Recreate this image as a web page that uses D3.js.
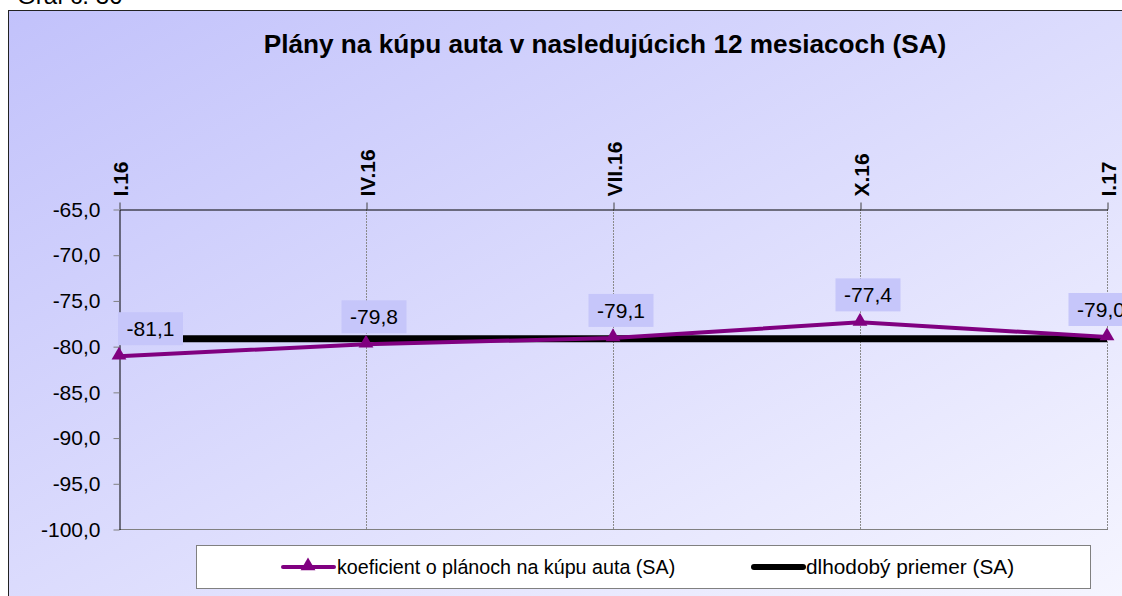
<!DOCTYPE html>
<html>
<head>
<meta charset="utf-8">
<script src="https://cdn.jsdelivr.net/npm/d3@7"></script>
<style>
  body { margin: 0; background: #fff; }
  svg { display: block; font-family: 'Liberation Sans', Arial, sans-serif; }
</style>
</head>
<body>
<div id="chart"></div>
<script>
const w = 1122;
const h = 596;

const categories = ['I.16', 'IV.16', 'VII.16', 'X.16', 'I.17'];
const planValues = [-81.1, -79.8, -79.1, -77.4, -79.0];
const longAverage = -79.2;
const yTicks = [-65, -70, -75, -80, -85, -90, -95, -100];
const seriesNames = ['koeficient o plánoch na kúpu auta (SA)', 'dlhodobý priemer (SA)'];

const plot = {left: 119, right: 1107, top: 209, bottom: 529};
const font = "'Liberation Sans', Arial, sans-serif";

const sk = d3.formatLocale({decimal: ',', thousands: ' ', grouping: [3], currency: ['', '€'], minus: '-'});
const fmt = sk.format('.1f');

const svg = d3.select('#chart')
  .append('svg')
  .attr('width', w)
  .attr('height', h);

const grad = svg.append('defs').append('linearGradient')
  .attr('id', 'bg')
  .attr('x1', '0%').attr('y1', '0%')
  .attr('x2', '100%').attr('y2', '100%');
grad.append('stop').attr('offset', '0%').attr('stop-color', '#c2c2fb');
grad.append('stop').attr('offset', '100%').attr('stop-color', '#f6f6ff');

// caption above the frame, mostly cut off
svg.append('text')
  .attr('x', 17)
  .attr('y', 4)
  .attr('font-size', '24px')
  .text('Graf č. 36');

// chart frame
svg.append('rect')
  .attr('x', 8.5)
  .attr('y', 10.5)
  .attr('width', 1130)
  .attr('height', 600)
  .attr('fill', 'url(#bg)')
  .attr('stroke', '#222');

svg.append('text')
  .attr('x', 605)
  .attr('y', 53)
  .attr('text-anchor', 'middle')
  .attr('font-size', '26.2px')
  .attr('font-weight', 'bold')
  .text('Plány na kúpu auta v nasledujúcich 12 mesiacoch (SA)');

const x = d3.scalePoint().domain(categories).range([plot.left, plot.right]).padding(0);
const y = d3.scaleLinear().domain([-100, -65]).range([plot.bottom, plot.top]);

// vertical gridlines
svg.append('g')
  .selectAll('line')
  .data(categories.slice(1))
  .join('line')
  .attr('x1', d => x(d) + 0.5)
  .attr('x2', d => x(d) + 0.5)
  .attr('y1', plot.top)
  .attr('y2', plot.bottom)
  .attr('stroke', '#8a8a8a')
  .attr('stroke-dasharray', '2,1');

// bottom border of plot
svg.append('line')
  .attr('x1', plot.left)
  .attr('x2', plot.right + 1)
  .attr('y1', plot.bottom + 0.5)
  .attr('y2', plot.bottom + 0.5)
  .attr('stroke', '#808080');

// y axis
const yAxis = d3.axisLeft(y)
  .tickValues(yTicks)
  .tickFormat(fmt)
  .tickSize(6)
  .tickSizeOuter(0)
  .tickPadding(13);
const gy = svg.append('g')
  .attr('transform', `translate(${plot.left + 0.5}, 0.5)`)
  .call(yAxis)
  .attr('font-size', 21)
  .attr('font-family', font);
gy.select('.domain').attr('stroke', '#000');
gy.selectAll('.tick line').attr('stroke', '#808080');
gy.selectAll('.tick text').attr('fill', '#000');

// x axis on top
const xAxis = d3.axisTop(x).tickSize(7).tickSizeOuter(0);
const gx = svg.append('g')
  .attr('transform', `translate(0.5, ${plot.top + 0.5})`)
  .call(xAxis)
  .attr('font-size', 21)
  .attr('font-family', font);
gx.select('.domain').attr('stroke', '#000');
gx.selectAll('.tick line').attr('stroke', '#404040');
gx.selectAll('.tick text')
  .attr('transform', 'rotate(-90)')
  .attr('x', 13)
  .attr('y', 0)
  .attr('dy', '0.36em')
  .attr('text-anchor', 'start')
  .attr('font-weight', 'bold')
  .attr('fill', '#000');

// long term average
svg.append('line')
  .attr('x1', x(categories[0]))
  .attr('x2', x(categories[categories.length - 1]))
  .attr('y1', y(longAverage))
  .attr('y2', y(longAverage))
  .attr('stroke', '#000')
  .attr('stroke-width', 7);

// plans series
const line = d3.line()
  .x((d, i) => x(categories[i]))
  .y(d => y(d));
svg.append('path')
  .datum(planValues)
  .attr('d', line)
  .attr('fill', 'none')
  .attr('stroke', '#800080')
  .attr('stroke-width', 4);

const tri = d3.symbol().type(d3.symbolTriangle).size(95);
svg.append('g')
  .selectAll('path')
  .data(planValues)
  .join('path')
  .attr('d', tri)
  .attr('transform', (d, i) => `translate(${x(categories[i])}, ${y(d) - 1})`)
  .attr('fill', '#800080');

// data labels
const boxW = 65, boxH = 33;
const labels = svg.append('g')
  .selectAll('g')
  .data(planValues)
  .join('g')
  .attr('transform', (d, i) => {
    let cx = x(categories[i]) + 8;
    cx = Math.max(cx, plot.left - 1 + boxW / 2);
    cx = Math.min(cx, plot.right - 6);
    return `translate(${cx}, ${y(d) - 11})`;
  });
labels.append('rect')
  .attr('x', -boxW / 2)
  .attr('y', -boxH)
  .attr('width', boxW)
  .attr('height', boxH)
  .attr('fill', '#c6c6fa');
labels.append('text')
  .attr('x', 0)
  .attr('y', -boxH / 2)
  .attr('dy', '0.36em')
  .attr('text-anchor', 'middle')
  .attr('font-size', '21px')
  .text(d => fmt(d));

// legend
const legend = svg.append('g');
legend.append('rect')
  .attr('x', 196.5)
  .attr('y', 545.5)
  .attr('width', 894)
  .attr('height', 43)
  .attr('fill', '#fff')
  .attr('stroke', '#808080');

const ly = 567;
legend.append('line')
  .attr('x1', 283).attr('x2', 334)
  .attr('y1', ly).attr('y2', ly)
  .attr('stroke', '#800080')
  .attr('stroke-width', 4)
  .attr('stroke-linecap', 'round');
legend.append('path')
  .attr('d', tri)
  .attr('transform', `translate(308, ${ly - 1})`)
  .attr('fill', '#800080');
legend.append('text')
  .attr('x', 337)
  .attr('y', ly)
  .attr('dy', '0.36em')
  .attr('font-size', '19.7px')
  .text(seriesNames[0]);

legend.append('line')
  .attr('x1', 754).attr('x2', 803)
  .attr('y1', ly).attr('y2', ly)
  .attr('stroke', '#000')
  .attr('stroke-width', 6)
  .attr('stroke-linecap', 'round');
legend.append('text')
  .attr('x', 806)
  .attr('y', ly)
  .attr('dy', '0.36em')
  .attr('font-size', '20.8px')
  .text(seriesNames[1]);
</script>
</body>
</html>
